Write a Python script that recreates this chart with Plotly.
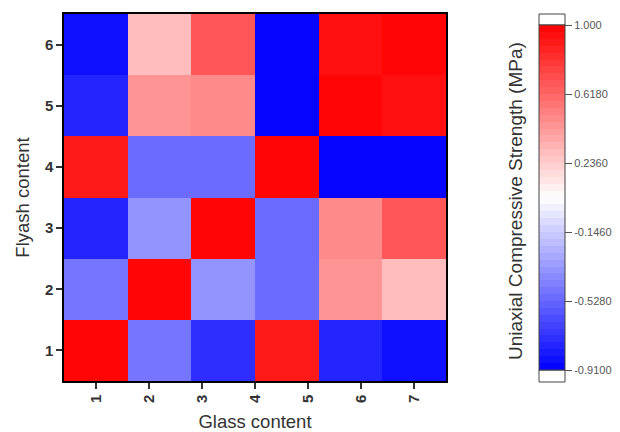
import plotly.graph_objects as go

# ---- data ----
glass_ticks = [1, 2, 3, 4, 5, 6, 7]
glass_positions = [1.0, 2.2, 3.4, 4.6, 5.8, 7.0]   # cell centres along glass axis
flyash = [1, 2, 3, 4, 5, 6]
strength = [
    [1.00, -0.46, -0.74, 0.89, -0.78, -0.85],   # flyash 1
    [-0.46, 1.00, -0.35, -0.52, 0.44, 0.29],    # flyash 2
    [-0.76, -0.35, 1.00, -0.52, 0.50, 0.68],    # flyash 3
    [0.89, -0.52, -0.52, 1.00, -0.91, -0.91],   # flyash 4
    [-0.78, 0.44, 0.50, -0.91, 1.00, 0.93],     # flyash 5
    [-0.85, 0.29, 0.68, -0.91, 0.93, 1.00],     # flyash 6
]
cb_ticks = [1.0, 0.618, 0.236, -0.146, -0.528, -0.91]
cb_labels = ["1.000", "0.6180", "0.2360", "-0.1460", "-0.5280", "-0.9100"]
zmin, zmax = -0.91, 1.0
n_levels = 50


def bwr(t):
    if t <= 0.5:
        v = round(255 * 2 * t)
        return f"rgb({v},{v},255)"
    v = round(255 * 2 * (1 - t))
    return f"rgb(255,{v},{v})"


colorscale = []
for i in range(n_levels):
    c = bwr((i + 0.5) / n_levels)
    colorscale.append([i / n_levels, c])
    colorscale.append([(i + 1) / n_levels, c])

W, H = 620, 432
L, R, T, B = 64, 174, 14, 51
pw, ph = W - L - R, H - T - B

def px_x(x):
    return (x - L) / pw

def px_y(y):
    return (H - B - y) / ph

CB_X0, CB_X1 = 539, 565
CB_Y0, CB_Y1 = 25, 370

fig = go.Figure(go.Heatmap(
    x=glass_positions, y=flyash, z=strength,
    zmin=zmin, zmax=zmax, colorscale=colorscale,
    xgap=0, ygap=0,
    colorbar=dict(
        x=px_x(CB_X0), xanchor="left", xref="paper",
        y=px_y((CB_Y0 + CB_Y1) / 2), yanchor="middle",
        len=(CB_Y1 - CB_Y0) / ph, lenmode="fraction",
        thickness=CB_X1 - CB_X0, thicknessmode="pixels",
        xpad=0, ypad=0,
        outlinewidth=1, outlinecolor="#444",
        tickmode="array", tickvals=cb_ticks, ticktext=cb_labels,
        ticks="outside", ticklen=7, tickcolor="#555",
        tickfont=dict(family="Liberation Sans, Arial", size=11, color="#555"),
    ),
))

# over/under range boxes on colour bar
for y0, y1 in [(14, CB_Y0), (CB_Y1, 382)]:
    fig.add_shape(type="rect", xref="paper", yref="paper",
                  x0=px_x(CB_X0), x1=px_x(CB_X1), y0=px_y(y1), y1=px_y(y0),
                  fillcolor="white", line=dict(color="#444", width=1))

fig.add_annotation(
    text="Uniaxial Compressive Strength (MPa)", textangle=-90,
    xref="paper", yref="paper", x=px_x(515), y=px_y(201), showarrow=False,
    xanchor="center", yanchor="middle",
    font=dict(family="Liberation Sans, Arial", size=19, color="#333"),
)

axis_common = dict(
    showline=True, linecolor="black", linewidth=1.5, mirror=True,
    ticks="outside", ticklen=6, tickwidth=1.5, tickcolor="#333",
    showgrid=False, zeroline=False,
    tickfont=dict(family="Liberation Sans, Arial", size=15, color="#333", weight="bold"),
    title_font=dict(family="Liberation Sans, Arial", size=18.5, color="#333"),
)

fig.update_layout(
    width=W, height=H,
    margin=dict(l=L, r=R, t=T, b=B, autoexpand=False),
    paper_bgcolor="white", plot_bgcolor="white",
    xaxis=dict(range=[0.4, 7.6], tickmode="array", tickvals=glass_ticks,
               tickangle=-90, title=dict(text="Glass content", standoff=14),
               automargin=False, **axis_common),
    yaxis=dict(range=[0.5, 6.5], tickmode="array", tickvals=flyash,
               title=dict(text="Flyash content", standoff=10),
               automargin=False, **axis_common),
)

fig.write_html("out.html", config={"displayModeBar": False},
               post_script="document.body.style.margin='0';document.body.style.overflow='hidden';")
